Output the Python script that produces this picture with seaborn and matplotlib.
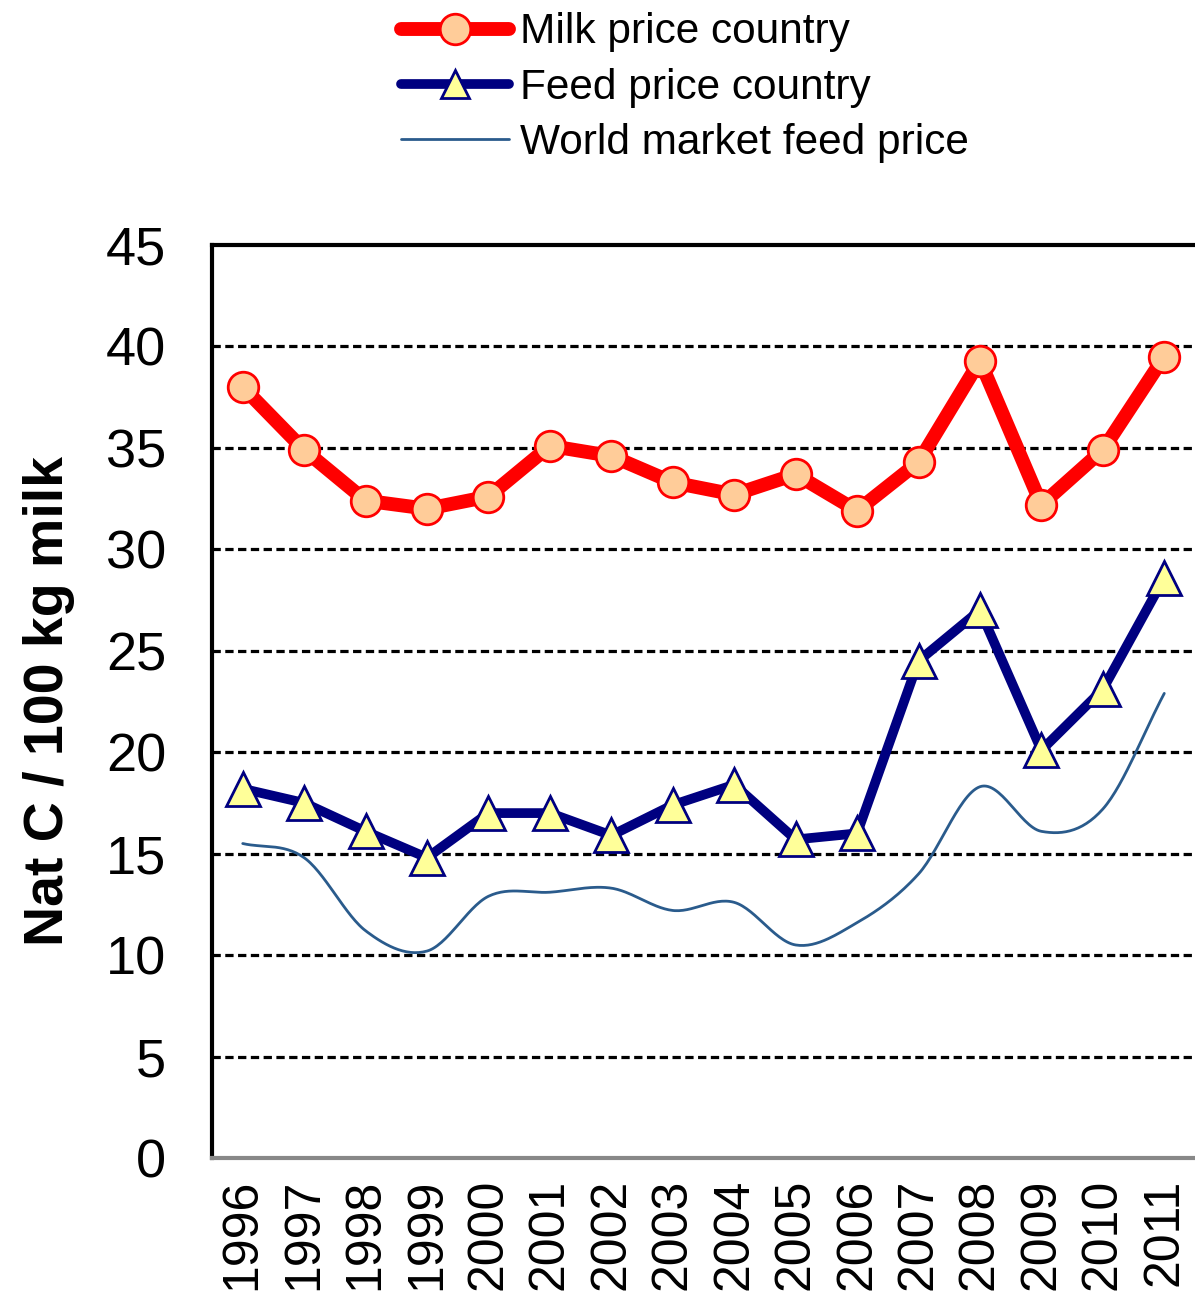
import numpy as np
import pandas as pd
import matplotlib
matplotlib.use("Agg")
import matplotlib.pyplot as plt
from matplotlib.lines import Line2D
import seaborn as sns

# Values
years = ["1996", "1997", "1998", "1999", "2000", "2001", "2002", "2003",
         "2004", "2005", "2006", "2007", "2008", "2009", "2010", "2011"]
milk_price = [38.0, 34.9, 32.4, 32.0, 32.6, 35.1, 34.6, 33.3,
              32.7, 33.7, 31.9, 34.3, 39.3, 32.2, 34.9, 39.5]
feed_price = [18.2, 17.5, 16.1, 14.8, 17.0, 17.0, 15.9, 17.4,
              18.4, 15.7, 16.0, 24.5, 27.0, 20.1, 23.1, 28.6]
world_feed = [15.5, 14.8, 11.2, 10.2, 12.9, 13.1, 13.3, 12.2,
              12.6, 10.5, 11.6, 14.0, 18.3, 16.1, 17.2, 22.9]
y_ticks = [0, 5, 10, 15, 20, 25, 30, 35, 40, 45]

df = pd.DataFrame({"pos": np.arange(len(years)), "year": years,
                   "milk": milk_price, "feed": feed_price, "world": world_feed})


def smooth(x, y, n=30):
    # Catmull-Rom spline like Excel's "smoothed line"
    x = np.asarray(x, float)
    y = np.asarray(y, float)
    px = np.concatenate([[2 * x[0] - x[1]], x, [2 * x[-1] - x[-2]]])
    py = np.concatenate([[2 * y[0] - y[1]], y, [2 * y[-1] - y[-2]]])
    xs, ys = [], []
    t = np.linspace(0, 1, n, endpoint=False)
    for i in range(1, len(px) - 2):
        for arr, out in ((px, xs), (py, ys)):
            p0, p1, p2, p3 = arr[i - 1], arr[i], arr[i + 1], arr[i + 2]
            out.extend(0.5 * (2 * p1 + (-p0 + p2) * t
                              + (2 * p0 - 5 * p1 + 4 * p2 - p3) * t ** 2
                              + (-p0 + 3 * p1 - 3 * p2 + p3) * t ** 3))
    xs.append(x[-1])
    ys.append(y[-1])
    return np.array(xs), np.array(ys)


sns.set_style("white")
plt.rcParams["font.family"] = ["Liberation Sans", "DejaVu Sans"]
plt.rcParams["text.color"] = "black"
plt.rcParams["xtick.color"] = "black"
plt.rcParams["ytick.color"] = "black"
plt.rcParams["axes.labelcolor"] = "black"

fig = plt.figure(figsize=(11.95, 13.02), dpi=100)
ax = fig.add_axes([212 / 1195, 1 - 1158 / 1302, 1 - 212 / 1195, (1158 - 245) / 1302])

# dashed gridlines
for v in y_ticks[1:-1]:
    ax.axhline(v, color="black", lw=2.3, dashes=(2.6, 1.4), zorder=1)

wx, wy = smooth(df["pos"], df["world"])
sns.lineplot(x=wx, y=wy, ax=ax, color="#2A5B8C", lw=2, sort=False,
             estimator=None, zorder=3)
sns.lineplot(data=df, x="pos", y="feed", ax=ax, color="#000080", lw=7,
             marker="^", markersize=24, markerfacecolor="#FFFF99",
             markeredgecolor="#000080", markeredgewidth=2, zorder=4)
sns.lineplot(data=df, x="pos", y="milk", ax=ax, color="#FF0000", lw=10,
             marker="o", markersize=22, markerfacecolor="#FFCC99",
             markeredgecolor="#FF0000", markeredgewidth=2, zorder=5)

ax.set_xlim(-0.5, 15.33)
ax.set_ylim(0, 45)
ax.set_yticks(y_ticks)
ax.set_yticklabels([str(v) for v in y_ticks], fontsize=39)
ax.set_xticks(df["pos"])
ax.set_xticklabels(years, rotation=90, fontsize=36, va="top")
ax.set_xticks(np.arange(-0.5, 16, 1), minor=True)
ax.tick_params(axis="x", which="major", length=0, pad=15)
ax.tick_params(axis="x", which="minor", length=12, width=3, color="#888888",
               direction="out")
ax.tick_params(axis="y", length=12, width=2.5, color="black", direction="out",
               pad=21)
ax.set_xlabel("")
ax.set_ylabel("Nat C / 100 kg milk", fontsize=40, fontweight="bold", labelpad=22)

for s in ["left", "top"]:
    ax.spines[s].set_color("black")
    ax.spines[s].set_linewidth(3)
ax.spines["bottom"].set_color("#888888")
ax.spines["bottom"].set_linewidth(3)
ax.spines["right"].set_visible(False)

handles = [
    Line2D([], [], color="#FF0000", lw=10, marker="o", markersize=22,
           markerfacecolor="#FFCC99", markeredgecolor="#FF0000", markeredgewidth=2),
    Line2D([], [], color="#000080", lw=7, marker="^", markersize=20,
           markerfacecolor="#FFFF99", markeredgecolor="#000080", markeredgewidth=2),
    Line2D([], [], color="#2A5B8C", lw=2),
]
labels = ["Milk price country", "Feed price country", "World market feed price"]
fig.legend(handles, labels, loc="upper left", bbox_to_anchor=(376 / 1195, 1.01),
           frameon=False, fontsize=30.5, handlelength=2.55, handletextpad=0.25,
           labelspacing=0.36, borderaxespad=0.2)

fig.savefig("out.png", dpi=100)
